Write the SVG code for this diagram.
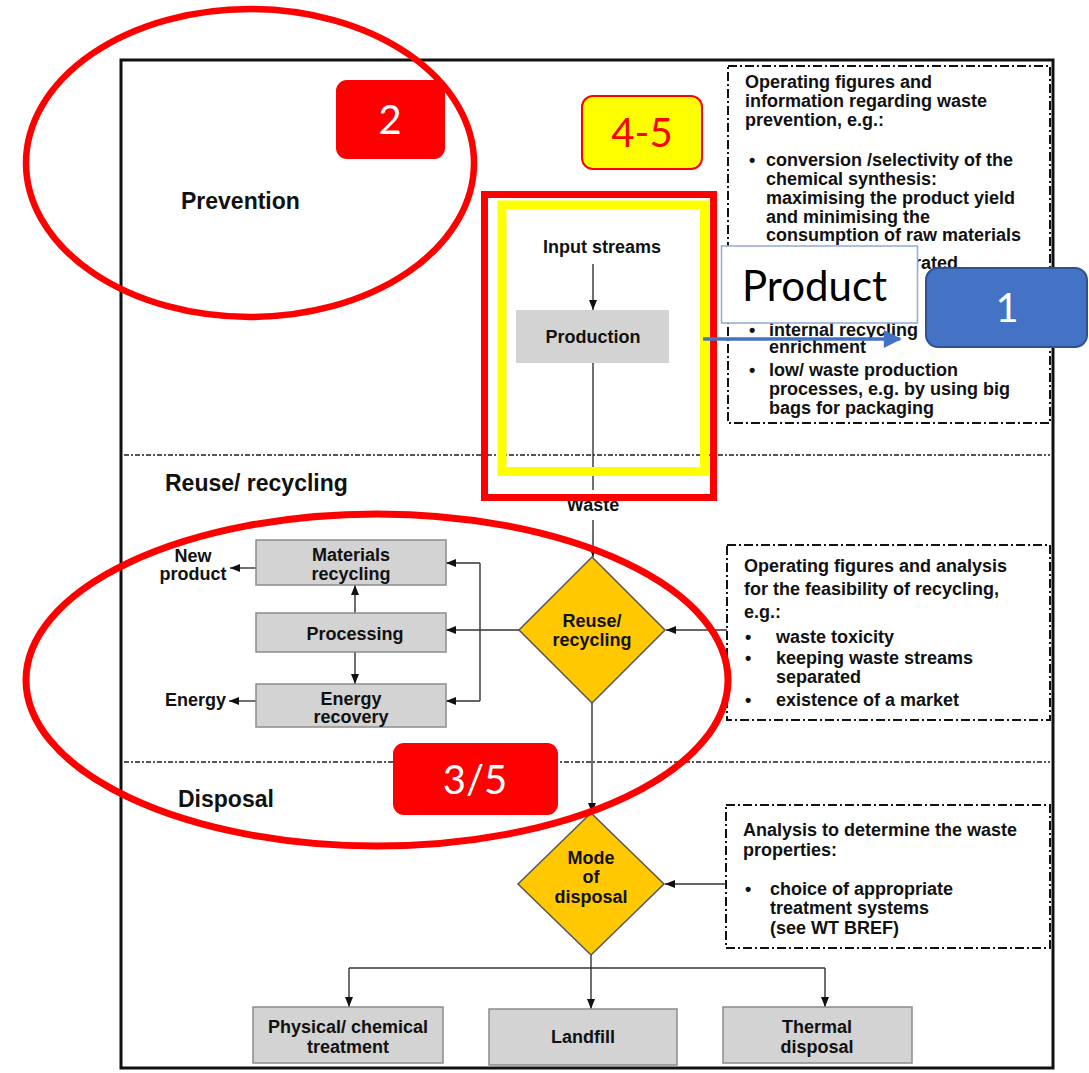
<svg xmlns="http://www.w3.org/2000/svg" width="1089" height="1073" viewBox="0 0 1089 1073">
  <style>
    .t { font-family: "Liberation Sans", Arial, sans-serif; font-weight: bold; font-size: 18px; fill: #111; }
    .tc { text-anchor: middle; }
    .sec { font-family: "Liberation Sans", Arial, sans-serif; font-weight: bold; font-size: 23px; fill: #111; }
    .box { fill: #d3d3d3; stroke: #8c8c8c; stroke-width: 1.5; }
    .dia { fill: #ffc800; stroke: #555; stroke-width: 1.5; }
    .note { fill: #fff; stroke: #111; stroke-width: 2; stroke-dasharray: 9 3 2 3; }
    .div { stroke: #555; stroke-width: 2; stroke-dasharray: 5 2 2 2; fill: none; }
    .ln { stroke: #333; stroke-width: 1.4; fill: none; }
    .badge { font-family: Lato, "Open Sans", sans-serif; font-size: 40px; text-anchor: middle; }
  </style>
  <defs>
    <marker id="arr" viewBox="0 0 10 10" refX="10" refY="5" markerWidth="10" markerHeight="10" markerUnits="userSpaceOnUse" orient="auto">
      <path d="M0,1 L10,5 L0,9 z" fill="#111"/>
    </marker>
    <marker id="barr" viewBox="0 0 10 10" refX="9" refY="5" markerWidth="20" markerHeight="18" markerUnits="userSpaceOnUse" orient="auto">
      <path d="M0,0 L10,5 L0,10 z" fill="#4472c4"/>
    </marker>
  </defs>

  <rect width="1089" height="1073" fill="#fff"/>

  <!-- outer frame and section dividers -->
  <rect x="121" y="60" width="932" height="1008" fill="none" stroke="#111" stroke-width="3"/>
  <line class="div" x1="124" y1="455" x2="1050" y2="455"/>
  <line class="div" x1="124" y1="762" x2="1050" y2="762"/>

  <!-- section titles -->
  <text class="sec" x="181" y="209">Prevention</text>
  <text class="sec" x="165" y="491">Reuse/ recycling</text>
  <text class="sec" x="178" y="807">Disposal</text>

  <!-- information panels -->
  <g id="info-prevention">
    <rect class="note" x="728" y="66" width="322" height="357"/>
    <text class="t" x="745" y="88">Operating figures and</text>
    <text class="t" x="745" y="107">information regarding waste</text>
    <text class="t" x="745" y="126">prevention, e.g.:</text>
    <text class="t" x="749" y="166">•</text>
    <text class="t" x="766" y="166">conversion /selectivity of the</text>
    <text class="t" x="766" y="185">chemical synthesis:</text>
    <text class="t" x="766" y="204">maximising the product yield</text>
    <text class="t" x="766" y="223">and minimising the</text>
    <text class="t" x="766" y="241">consumption of raw materials</text>
    <text class="t" x="958" y="269" text-anchor="end">streams separated</text>
    <text class="t" x="749" y="336">•</text>
    <text class="t" x="769" y="336">internal recycling</text>
    <text class="t" x="769" y="353">enrichment</text>
    <text class="t" x="749" y="376">•</text>
    <text class="t" x="769" y="376">low/ waste production</text>
    <text class="t" x="769" y="395">processes, e.g. by using big</text>
    <text class="t" x="769" y="414">bags for packaging</text>
  </g>

  <g id="info-recycling">
    <rect class="note" x="727" y="545" width="323" height="175"/>
    <text class="t" x="744" y="572">Operating figures and analysis</text>
    <text class="t" x="744" y="595">for the feasibility of recycling,</text>
    <text class="t" x="744" y="618">e.g.:</text>
    <text class="t" x="745" y="643">•</text>
    <text class="t" x="776" y="643">waste toxicity</text>
    <text class="t" x="745" y="664">•</text>
    <text class="t" x="776" y="664">keeping waste streams</text>
    <text class="t" x="776" y="683">separated</text>
    <text class="t" x="745" y="706">•</text>
    <text class="t" x="776" y="706">existence of a market</text>
  </g>

  <g id="info-disposal">
    <rect class="note" x="726" y="805" width="324" height="143"/>
    <text class="t" x="743" y="836">Analysis to determine the waste</text>
    <text class="t" x="743" y="856">properties:</text>
    <text class="t" x="745" y="895">•</text>
    <text class="t" x="770" y="895">choice of appropriate</text>
    <text class="t" x="770" y="914">treatment systems</text>
    <text class="t" x="770" y="934">(see WT BREF)</text>
  </g>

  <!-- connectors -->
  <g id="connectors">
    <path class="ln" d="M593,264 V310" marker-end="url(#arr)"/>
    <path class="ln" d="M593,363 V490"/>
    <path class="ln" d="M593,520 V557" marker-end="url(#arr)"/>
    <path class="ln" d="M592,703 V813" marker-end="url(#arr)"/>
    <path class="ln" d="M727,630 H666" marker-end="url(#arr)"/>
    <path class="ln" d="M726,884 H665" marker-end="url(#arr)"/>
    <path class="ln" d="M519,630 H446" marker-end="url(#arr)"/>
    <path class="ln" d="M480,563 V701"/>
    <path class="ln" d="M480,563 H446" marker-end="url(#arr)"/>
    <path class="ln" d="M480,701 H446" marker-end="url(#arr)"/>
    <path class="ln" d="M355,613 V585" marker-end="url(#arr)"/>
    <path class="ln" d="M355,652 V684" marker-end="url(#arr)"/>
    <path class="ln" d="M256,568 H230" marker-end="url(#arr)"/>
    <path class="ln" d="M256,701 H229" marker-end="url(#arr)"/>
    <path class="ln" d="M591,955 V1009" marker-end="url(#arr)"/>
    <path class="ln" d="M349,968 H825"/>
    <path class="ln" d="M349,968 V1007" marker-end="url(#arr)"/>
    <path class="ln" d="M825,968 V1007" marker-end="url(#arr)"/>
  </g>

  <!-- flow nodes -->
  <g id="input-streams">
    <text class="t tc" x="602" y="253">Input streams</text>
  </g>
  <g id="production">
    <rect x="516" y="310" width="153" height="53" fill="#d3d3d3"/>
    <text class="t tc" x="593" y="343">Production</text>
  </g>
  <g id="waste">
    <text class="t tc" x="593" y="511">Waste</text>
  </g>
  <g id="reuse-recycling">
    <polygon class="dia" points="592,557 665,630 592,703 519,630"/>
    <text class="t tc" x="592" y="627">Reuse/</text>
    <text class="t tc" x="592" y="646">recycling</text>
  </g>
  <g id="materials-recycling">
    <rect class="box" x="256" y="540" width="190" height="45"/>
    <text class="t tc" x="351" y="561">Materials</text>
    <text class="t tc" x="351" y="580">recycling</text>
  </g>
  <g id="processing">
    <rect class="box" x="256" y="613" width="190" height="39"/>
    <text class="t tc" x="355" y="640">Processing</text>
  </g>
  <g id="energy-recovery">
    <rect class="box" x="256" y="684" width="190" height="43"/>
    <text class="t tc" x="351" y="705">Energy</text>
    <text class="t tc" x="351" y="723">recovery</text>
  </g>
  <g id="new-product">
    <text class="t tc" x="193" y="562">New</text>
    <text class="t tc" x="193" y="580">product</text>
  </g>
  <g id="energy">
    <text class="t" x="226" y="706" text-anchor="end">Energy</text>
  </g>
  <g id="mode-of-disposal">
    <polygon class="dia" points="591,813 664,884 591,955 518,884"/>
    <text class="t tc" x="591" y="864">Mode</text>
    <text class="t tc" x="591" y="883">of</text>
    <text class="t tc" x="591" y="903">disposal</text>
  </g>
  <g id="physical-chemical">
    <rect class="box" x="253" y="1007" width="190" height="56"/>
    <text class="t tc" x="348" y="1033">Physical/ chemical</text>
    <text class="t tc" x="348" y="1053">treatment</text>
  </g>
  <g id="landfill">
    <rect class="box" x="489" y="1009" width="188" height="56"/>
    <text class="t tc" x="583" y="1043">Landfill</text>
  </g>
  <g id="thermal-disposal">
    <rect class="box" x="723" y="1007" width="189" height="56"/>
    <text class="t tc" x="817" y="1033">Thermal</text>
    <text class="t tc" x="817" y="1053">disposal</text>
  </g>

  <!-- highlight marks -->
  <g id="mark-prevention">
    <ellipse cx="250" cy="163" rx="224" ry="154" fill="none" stroke="#f00" stroke-width="6.5"/>
    <rect x="336" y="80" width="109" height="79" rx="11" fill="#f00"/>
    <text class="badge" x="390" y="134" fill="#fff">2</text>
  </g>
  <g id="mark-production">
    <rect x="484.5" y="194.5" width="229" height="303" fill="none" stroke="#f00" stroke-width="7"/>
    <rect x="502" y="205" width="202.5" height="266.5" fill="none" stroke="#ff0" stroke-width="9"/>
    <rect x="582" y="96" width="120" height="73" rx="11" fill="#ff0" stroke="#f00" stroke-width="2"/>
    <text class="badge" x="642" y="147" fill="#f00">4-5</text>
  </g>
  <g id="mark-recycling">
    <ellipse cx="377" cy="680" rx="351" ry="166" fill="none" stroke="#f00" stroke-width="7"/>
    <rect x="393" y="743" width="165" height="72" rx="11" fill="#f00"/>
    <text class="badge" x="475" y="794" fill="#fff">3/5</text>
  </g>
  <g id="mark-product">
    <rect x="721.5" y="246" width="196" height="77" fill="#fff" stroke="#8faadc" stroke-width="1.5"/>
    <text x="742" y="301" font-family="Lato, 'Open Sans', sans-serif" font-size="42" fill="#000">Product</text>
    <path d="M703,339 H900" stroke="#4472c4" stroke-width="3.5" fill="none" marker-end="url(#barr)"/>
    <rect x="926" y="268" width="161" height="79" rx="12" fill="#4472c4" stroke="#2f528f" stroke-width="2"/>
    <text class="badge" x="1007" y="322" fill="#fff">1</text>
  </g>
</svg>
